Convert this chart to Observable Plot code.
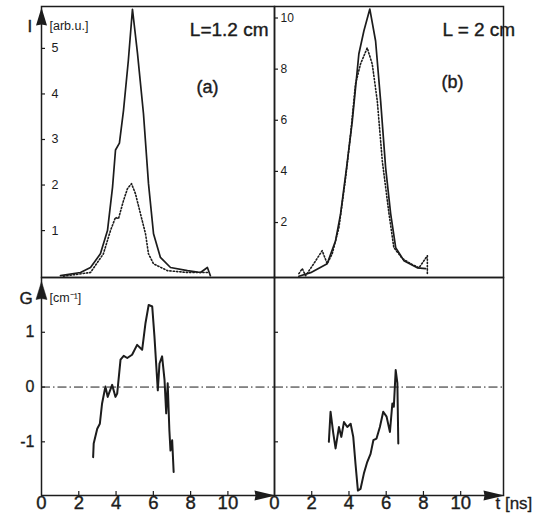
<!DOCTYPE html>
<html><head><meta charset="utf-8">
<script src="https://cdn.jsdelivr.net/npm/d3@7"></script>
<script src="https://cdn.jsdelivr.net/npm/@observablehq/plot@0.6"></script>
<style>
html,body{margin:0;padding:0;background:#fff;}
#fig{position:relative;width:540px;height:518px;overflow:hidden;}
#fig svg{position:absolute;left:0;top:0;}
</style></head><body><div id="fig"></div>
<script>
// ---------- data ----------
// (a) L = 1.2 cm, intensity I [arb.u.] vs t [ns]
const tA_solid = [1.02,2.09,2.63,3.16,3.54,3.81,3.97,4.18,4.40,4.66,4.88,5.15,5.47,5.74,6.01,6.38,6.92,7.83,8.53,8.90,9.06];
const IA_solid = [0.01,0.08,0.19,0.49,1.00,1.95,2.77,2.92,3.64,4.74,5.86,4.89,3.57,2.03,0.93,0.41,0.19,0.12,0.08,0.19,0.01];
const tA_dot = [1.18,2.63,3.32,3.70,3.97,4.13,4.40,4.61,4.83,5.04,5.31,5.58,5.74,6.01,6.76,7.83,8.90];
const IA_dot = [0.00,0.08,0.49,1.00,1.29,1.26,1.66,1.92,2.03,1.81,1.37,0.93,0.49,0.27,0.12,0.08,0.08];
// (b) L = 2 cm
const tB_solid = [1.31,1.94,2.83,3.28,3.55,3.87,4.18,4.53,4.80,5.12,5.43,5.70,5.97,6.24,6.51,6.95,7.67,8.12];
const IB_solid = [-0.10,0.04,0.39,1.29,2.34,4.14,5.98,8.59,9.49,10.35,9.10,6.76,4.14,2.34,1.02,0.51,0.23,0.20];
const tB_dot = [1.31,1.49,1.67,2.11,2.56,2.83,3.10,3.46,3.82,4.09,4.35,4.62,4.98,5.25,5.52,5.79,6.15,6.41,6.87,7.31,7.76,8.03,8.21,8.21];
const IB_dot = [0.00,0.20,-0.08,0.39,0.90,0.39,0.78,1.80,3.75,5.47,7.42,8.20,8.83,8.20,6.76,4.41,2.34,1.02,0.59,0.39,0.23,0.51,0.70,0.00];
// gain G [cm^-1] vs t [ns]
const tGA = [2.77,2.80,2.99,3.13,3.25,3.43,3.55,3.79,3.97,4.06,4.24,4.41,4.60,4.86,5.13,5.40,5.58,5.75,5.94,6.06,6.15,6.24,6.33,6.47,6.60,6.69,6.77,6.86,6.92,7.01,7.09];
const GA = [-1.28,-1.03,-0.76,-0.67,-0.30,0.01,-0.18,0.04,-0.18,-0.12,0.50,0.57,0.53,0.59,0.77,0.68,1.17,1.50,1.47,0.92,0.43,-0.06,0.43,0.56,0.13,-0.48,0.07,-0.79,-1.16,-0.97,-1.55];
const tGB = [2.92,3.01,3.16,3.28,3.46,3.59,3.73,3.91,4.09,4.23,4.35,4.48,4.62,4.80,4.98,5.16,5.31,5.48,5.66,5.84,6.02,6.20,6.33,6.41,6.51,6.60,6.65];
const GB = [-1.00,-0.45,-0.85,-1.12,-0.73,-0.91,-0.64,-0.73,-0.67,-0.91,-1.40,-1.89,-1.86,-1.58,-1.37,-1.22,-0.97,-0.94,-0.73,-0.45,-0.54,-0.82,-0.30,-0.36,0.31,0.07,-1.03];
// ticks / labels
const iTicksA = [1,2,3,4,5];
const iTicksB = [2,4,6,8,10];
const gTicks = [1,0,-1];
const gTickLabels = ["1","0","-1"];
const tTicks = [2,4,6,8,10];
const tLabels = [0,2,4,6,8,10];
const titleA = "L=1.2 cm", titleB = "L = 2 cm";
const tagA = "(a)", tagB = "(b)";
const yLabelI = "I", yUnitI = "[arb.u.]";
const yLabelG = "G", yUnitG = "[cm\u207B\u00B9]";
const xLabel = "t [ns]";

// ---------- helpers ----------
const ink = "#1c1c1c";
const font = "'Liberation Sans', Arial, Helvetica, sans-serif";
const heavy = {fill: ink, stroke: ink, strokeWidth: 0.4};
const zip = (ts, vs) => ts.map((t, i) => ({t, v: vs[i]}));
const upArrow = {draw(c) { c.moveTo(0, 1); c.lineTo(5.5, 19); c.lineTo(0, 18); c.lineTo(-5.5, 19); c.closePath(); }};
const rightArrow = {draw(c) { c.moveTo(1, 0); c.lineTo(-20, -5); c.lineTo(-19, 0); c.lineTo(-20, 5); c.closePath(); }};

function panel({box, xDom, yDom, marks}) {
  const [x0, y0, x1, y1] = box;
  return Plot.plot({
    width: 540, height: 518,
    marginLeft: x0, marginRight: 540 - x1, marginTop: y0, marginBottom: 518 - y1,
    x: {domain: xDom, axis: null},
    y: {domain: yDom, axis: null},
    style: {background: "transparent", overflow: "visible", fontFamily: font, color: ink},
    marks: [Plot.frame({stroke: ink, strokeWidth: 1.5}), ...marks]
  });
}

const fig = document.getElementById("fig");
const X_A = [0, 12.5], X_B = [0, 12.3];
const Y_IA = [-0.03, 5.92], Y_IB = [-0.15, 10.45], Y_G = [-1.98, 2.0];
const boxTL = [41, 6, 274, 277], boxTR = [274, 6, 503, 277];
const boxBL = [41, 277, 274, 495], boxBR = [274, 277, 503, 495];
const fw = b => b[2] - b[0], fh = b => b[3] - b[1];

// top-left: I, L = 1.2 cm
fig.append(panel({box: boxTL, xDom: X_A, yDom: Y_IA, marks: [
  Plot.ruleY(iTicksA, {y: d => d, stroke: ink, strokeWidth: 1.2, insetRight: fw(boxTL) - 4}),
  Plot.text(iTicksA, {y: d => d, frameAnchor: "left", text: d => String(d), textAnchor: "start", dx: 10, fontSize: 12.5, fill: ink}),
  Plot.line(zip(tA_solid, IA_solid), {x: "t", y: "v", stroke: ink, strokeWidth: 1.7}),
  Plot.line(zip(tA_dot, IA_dot), {x: "t", y: "v", stroke: ink, strokeWidth: 1.6, strokeDasharray: "1.3,2"}),
  Plot.dot([{t: X_A[0], v: Y_IA[1]}], {x: "t", y: "v", symbol: upArrow, fill: ink, stroke: "none"}),
  Plot.text([yLabelI], {frameAnchor: "top-left", text: d => d, dx: -14, dy: 13, fontSize: 17, ...heavy}),
  Plot.text([yUnitI], {frameAnchor: "top-left", text: d => d, textAnchor: "start", dx: 8, dy: 15, fontSize: 12.5, fill: ink}),
  Plot.text([titleA], {frameAnchor: "top-right", text: d => d, textAnchor: "end", dx: -6, dy: 16, fontSize: 19, ...heavy}),
  Plot.text([tagA], {frameAnchor: "top-right", text: d => d, dx: -56, dy: 74, fontSize: 18, ...heavy})
]}));

// top-right: I, L = 2 cm
fig.append(panel({box: boxTR, xDom: X_B, yDom: Y_IB, marks: [
  Plot.ruleY(iTicksB, {y: d => d, stroke: ink, strokeWidth: 1.2, insetRight: fw(boxTR) - 4}),
  Plot.text(iTicksB, {y: d => d, frameAnchor: "left", text: d => String(d), textAnchor: "start", dx: 6, fontSize: 12, fill: ink}),
  Plot.line(zip(tB_solid, IB_solid), {x: "t", y: "v", stroke: ink, strokeWidth: 1.7}),
  Plot.line(zip(tB_dot, IB_dot), {x: "t", y: "v", stroke: ink, strokeWidth: 1.6, strokeDasharray: "1.3,2"}),
  Plot.text([titleB], {frameAnchor: "top-left", text: d => d, dx: 168, dy: 16, fontSize: 19, ...heavy}),
  Plot.text([tagB], {frameAnchor: "top-left", text: d => d, dx: 167, dy: 69, fontSize: 18, ...heavy})
]}));

// bottom-left: G, L = 1.2 cm
fig.append(panel({box: boxBL, xDom: X_A, yDom: Y_G, marks: [
  Plot.ruleY([0], {y: d => d, stroke: ink, strokeWidth: 1, strokeDasharray: "9,3,1.5,3"}),
  Plot.ruleY(gTicks, {y: d => d, stroke: ink, strokeWidth: 1.2, insetRight: fw(boxBL) - 4}),
  Plot.ruleX(tTicks, {x: d => d, stroke: ink, strokeWidth: 1.2, insetTop: fh(boxBL) - 4}),
  Plot.text(gTicks, {y: d => d, frameAnchor: "left", text: (d, i) => gTickLabels[i], textAnchor: "end", dx: -7, fontSize: 16, ...heavy, strokeWidth: 0.3}),
  Plot.text(tLabels, {x: d => d, frameAnchor: "bottom", text: d => String(d), dy: 13, fontSize: 18.5, ...heavy}),
  Plot.line(zip(tGA, GA), {x: "t", y: "v", stroke: ink, strokeWidth: 2}),
  Plot.dot([{t: X_A[0], v: Y_G[1]}], {x: "t", y: "v", symbol: upArrow, fill: ink, stroke: ink, strokeWidth: 0.5, dy: 3}),
  Plot.dot([{t: X_A[1], v: Y_G[0]}], {x: "t", y: "v", symbol: rightArrow, fill: ink, stroke: "none"}),
  Plot.text([yLabelG], {frameAnchor: "top-left", text: d => d, dx: -22, dy: 14, fontSize: 17, ...heavy}),
  Plot.text([yUnitG], {frameAnchor: "top-left", text: d => d, textAnchor: "start", dx: 8, dy: 16, fontSize: 12.5, fill: ink})
]}));

// bottom-right: G, L = 2 cm
fig.append(panel({box: boxBR, xDom: X_B, yDom: Y_G, marks: [
  Plot.ruleY([0], {y: d => d, stroke: ink, strokeWidth: 1, strokeDasharray: "9,3,1.5,3"}),
  Plot.ruleY([1, -1], {y: d => d, stroke: ink, strokeWidth: 1.2, insetRight: fw(boxBR) - 4}),
  Plot.ruleX(tTicks, {x: d => d, stroke: ink, strokeWidth: 1.2, insetTop: fh(boxBR) - 4}),
  Plot.text(tLabels, {x: d => d, frameAnchor: "bottom", text: d => String(d), dy: 13, fontSize: 18.5, ...heavy}),
  Plot.line(zip(tGB, GB), {x: "t", y: "v", stroke: ink, strokeWidth: 2}),
  Plot.dot([{t: X_B[1], v: Y_G[0]}], {x: "t", y: "v", symbol: rightArrow, fill: ink, stroke: "none"}),
  Plot.text([xLabel], {frameAnchor: "bottom-right", text: d => d, textAnchor: "start", dx: -8, dy: 13, fontSize: 17, ...heavy, strokeWidth: 0.3})
]}));
</script></body></html>
